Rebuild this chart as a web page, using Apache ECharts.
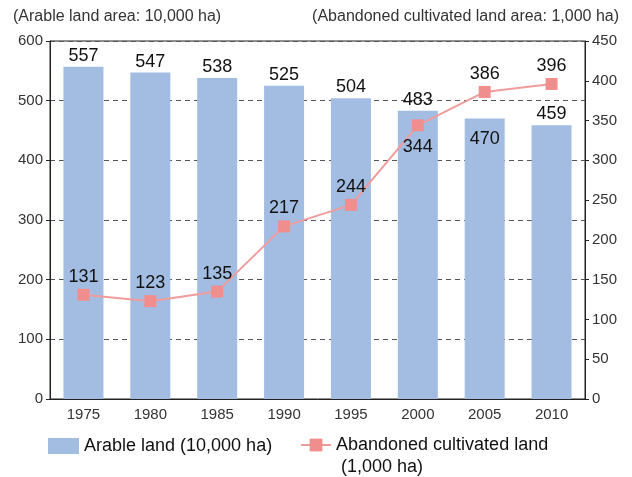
<!DOCTYPE html>
<html>
<head>
<meta charset="utf-8">
<script src="https://cdn.jsdelivr.net/npm/echarts@6/dist/echarts.min.js"></script>
<style>
  html, body { margin: 0; padding: 0; background: #fff; }
  #chart { width: 632px; height: 477px; }
</style>
</head>
<body>
<div id="chart"></div>
<script>
// Arable land vs. abandoned cultivated land, 1975–2010
const years = ['1975', '1980', '1985', '1990', '1995', '2000', '2005', '2010'];
const arableLand = [557, 547, 538, 525, 504, 483, 470, 459];       // 10,000 ha
const abandonedLand = [131, 123, 135, 217, 244, 344, 386, 396];    // 1,000 ha

const leftAxisMax = 600, leftAxisStep = 100;
const rightAxisMax = 450, rightAxisStep = 50;

const barName = 'Arable land (10,000 ha)';
const lineName = 'Abandoned cultivated land\n (1,000 ha)';

// years whose labels are moved to avoid collisions
const barLabelInside = ['2005'];
const lineLabelBelow = ['2000'];

const FONT = '"Liberation Sans", Arial, Helvetica, sans-serif';
const AXIS_COLOR = '#222';

const chart = echarts.init(document.getElementById('chart'), null, { renderer: 'canvas' });

const barData = arableLand.map((v, i) => {
  const item = { value: v };
  if (barLabelInside.includes(years[i])) {
    item.label = { position: 'insideTop', distance: 11 };
  }
  return item;
});

const lineData = abandonedLand.map((v, i) => {
  const item = { value: v };
  if (lineLabelBelow.includes(years[i])) {
    item.label = { position: 'bottom', distance: 7 };
  }
  return item;
});

const yAxisCommon = {
  type: 'value',
  min: 0,
  axisLine: { show: true, lineStyle: { color: AXIS_COLOR, width: 1 } },
  axisTick: { show: true, inside: false, length: 4, lineStyle: { color: AXIS_COLOR } },
  axisLabel: { fontFamily: FONT, fontSize: 15, color: '#333', margin: 7 }
};

chart.setOption({
  animation: false,
  textStyle: { fontFamily: FONT },
  title: [
    {
      text: '(Arable land area: 10,000 ha)',
      left: 13, top: 9, padding: 0,
      textStyle: { fontFamily: FONT, fontSize: 16, fontWeight: 'normal', color: '#333' }
    },
    {
      text: '(Abandoned cultivated land area: 1,000 ha)',
      right: 13, top: 9, padding: 0,
      textStyle: { fontFamily: FONT, fontSize: 16, fontWeight: 'normal', color: '#333' }
    }
  ],
  legend: [
    {
      data: [barName],
      left: 48, top: 437, padding: 0,
      icon: 'rect', itemWidth: 31, itemHeight: 16,
      selectedMode: false,
      textStyle: { fontFamily: FONT, fontSize: 18, lineHeight: 16, color: '#111' }
    },
    {
      data: [lineName],
      left: 300, top: 412, padding: 0,
      itemWidth: 30, itemHeight: 16,
      selectedMode: false,
      // a blank first line keeps the icon level with the first line of the name
      formatter: name => ' \n' + name,
      textStyle: { fontFamily: FONT, fontSize: 18, lineHeight: 22, color: '#111' }
    }
  ],
  grid: {
    left: 50, right: 47, top: 41, bottom: 78,
    show: true, borderColor: AXIS_COLOR, borderWidth: 1, backgroundColor: 'transparent'
  },
  xAxis: {
    type: 'category',
    data: years,
    axisLine: { lineStyle: { color: AXIS_COLOR, width: 1 } },
    axisTick: { show: false },
    axisLabel: { fontFamily: FONT, fontSize: 15, color: '#333', margin: 8 }
  },
  yAxis: [
    Object.assign({}, yAxisCommon, {
      position: 'left',
      max: leftAxisMax,
      interval: leftAxisStep,
      splitLine: { show: true, lineStyle: { color: '#555', width: 1, type: [5, 4] } }
    }),
    Object.assign({}, yAxisCommon, {
      position: 'right',
      max: rightAxisMax,
      interval: rightAxisStep,
      splitLine: { show: false }
    })
  ],
  series: [
    {
      name: barName,
      type: 'bar',
      yAxisIndex: 0,
      barWidth: 40,
      itemStyle: { color: '#A3BDE2' },
      label: {
        show: true, position: 'top', distance: 2,
        fontFamily: FONT, fontSize: 18, color: '#111'
      },
      data: barData
    },
    {
      name: lineName,
      type: 'line',
      yAxisIndex: 1,
      symbol: 'rect',
      symbolSize: 12,
      itemStyle: { color: '#F08E8E' },
      lineStyle: { color: '#F09C9C', width: 2 },
      label: {
        show: true, position: 'top', distance: 3,
        fontFamily: FONT, fontSize: 18, color: '#111'
      },
      data: lineData
    }
  ]
});
</script>
</body>
</html>
